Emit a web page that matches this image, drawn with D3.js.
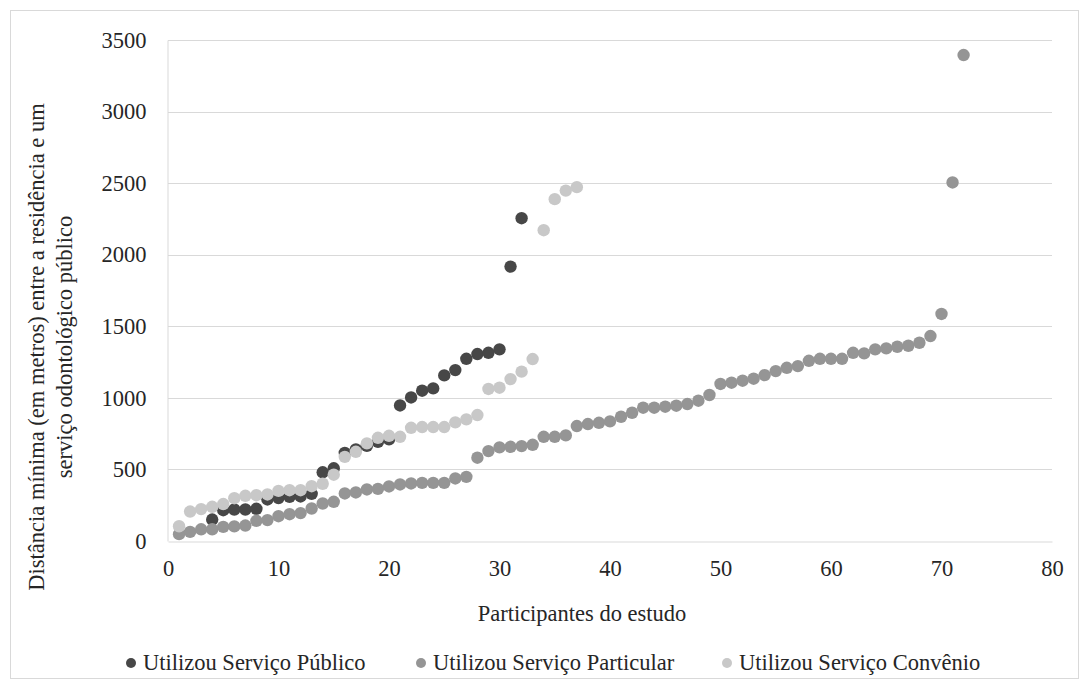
<!DOCTYPE html>
<html>
<head>
<meta charset="utf-8">
<script src="https://cdn.jsdelivr.net/npm/d3@7/dist/d3.min.js"></script>
<style>
  html, body { margin: 0; padding: 0; background: #fff; }
</style>
</head>
<body>
<div id="chart"></div>
<script>
// --- Data ---
const seriesNames = ['Utilizou Serviço Público', 'Utilizou Serviço Particular', 'Utilizou Serviço Convênio'];

// Público: first visible participant is #4
const publicoX = d3.range(4, 33);
const publicoValues = [150, 215, 220, 220, 225, 290, 300, 308, 311, 330, 480, 508, 615, 640, 665, 693, 710,
  947, 1003, 1050, 1066, 1157, 1194, 1273, 1306, 1315, 1339, 1917, 2255];

const particularValues = [48, 64, 82, 82, 99, 102, 108, 141, 146, 173, 187, 195, 227, 262, 274, 332, 339, 360,
  364, 381, 395, 402, 406, 406, 406, 437, 448, 582, 628, 654, 658, 663, 672, 728, 728, 738, 803, 817, 826,
  836, 868, 896, 931, 931, 938, 945, 957, 980, 1020, 1097, 1106, 1120, 1134, 1159, 1187, 1210, 1222, 1259,
  1273, 1273, 1273, 1315, 1311, 1339, 1346, 1357, 1364, 1385, 1432, 1586, 2505, 3395];

const convenioValues = [103, 206, 223, 239, 258, 299, 316, 320, 325, 350, 355, 355, 383, 400, 463, 588, 623,
  682, 721, 735, 728, 791, 796, 796, 796, 829, 850, 880, 1062, 1071, 1131, 1183, 1271, 2171, 2388, 2448, 2472];

const xTicks = [0, 10, 20, 30, 40, 50, 60, 70, 80];
const yTicks = [0, 500, 1000, 1500, 2000, 2500, 3000, 3500];

const colors = ['#474747', '#959595', '#c8c8c8'];

const FONT = '"Liberation Serif", "DejaVu Serif", serif';
const FONT_SIZE = 22.5;
const TEXT_COLOR = '#262626';

// --- Layout ---
const W = 1081, H = 681;
const margin = { top: 40, right: 29, bottom: 140, left: 168 };
const width = W - margin.left - margin.right;
const height = H - margin.top - margin.bottom;

const svg = d3.select('#chart').append('svg')
  .attr('width', W)
  .attr('height', H)
  .attr('font-family', FONT);

// outer chart border
svg.append('rect')
  .attr('x', 10.5).attr('y', 10.5)
  .attr('width', W - 13).attr('height', H - 13)
  .attr('fill', 'none')
  .attr('stroke', '#d9d9d9');

const g = svg.append('g').attr('transform', `translate(${margin.left},${margin.top})`);

const x = d3.scaleLinear().domain([0, 80]).range([0, width]);
const y = d3.scaleLinear().domain([0, 3500]).range([height, 0]);

// gridlines
g.append('g')
  .selectAll('line')
  .data(yTicks.filter(d => d > 0))
  .join('line')
    .attr('x1', 0).attr('x2', width)
    .attr('y1', d => Math.round(y(d)) + 0.5).attr('y2', d => Math.round(y(d)) + 0.5)
    .attr('stroke', '#d9d9d9');

// axes
const xAxis = g.append('g')
  .attr('transform', `translate(0,${Math.round(height) + 0.5})`)
  .call(d3.axisBottom(x).tickValues(xTicks).tickFormat(d3.format('d')).tickSize(0).tickPadding(19));
xAxis.attr('font-family', FONT).attr('font-size', FONT_SIZE);
xAxis.select('.domain').attr('stroke', '#d9d9d9');
xAxis.selectAll('text').attr('fill', TEXT_COLOR);

const yAxis = g.append('g')
  .attr('transform', 'translate(-0.5,0)')
  .call(d3.axisLeft(y).tickValues(yTicks).tickFormat(d3.format('d')).tickSize(0).tickPadding(21));
yAxis.attr('font-family', FONT).attr('font-size', FONT_SIZE);
yAxis.select('.domain').attr('stroke', '#d9d9d9');
yAxis.selectAll('text').attr('fill', TEXT_COLOR);

// points: Público, Particular, Convênio (later series drawn on top)
const series = [
  publicoValues.map((v, i) => ({ x: publicoX[i], y: v })),
  particularValues.map((v, i) => ({ x: i + 1, y: v })),
  convenioValues.map((v, i) => ({ x: i + 1, y: v }))
];

series.forEach((data, si) => {
  g.append('g')
    .selectAll('circle')
    .data(data)
    .join('circle')
      .attr('cx', d => x(d.x))
      .attr('cy', d => y(d.y))
      .attr('r', 6.2)
      .attr('fill', colors[si]);
});

// axis titles
svg.append('text')
  .attr('x', 582).attr('y', 621)
  .attr('text-anchor', 'middle')
  .attr('font-size', FONT_SIZE)
  .attr('fill', TEXT_COLOR)
  .text('Participantes do estudo');

const yTitle = svg.append('text')
  .attr('transform', 'translate(44,347) rotate(-90)')
  .attr('text-anchor', 'middle')
  .attr('font-size', FONT_SIZE)
  .attr('fill', TEXT_COLOR);
yTitle.append('tspan').attr('x', 0).attr('dy', 0).text('Distância mínima (em metros) entre a residência e um');
yTitle.append('tspan').attr('x', 0).attr('dy', 28).text('serviço odontológico público');

// legend
const legendX = [143, 433, 739];
const legend = svg.append('g');
seriesNames.forEach((name, i) => {
  legend.append('circle')
    .attr('cx', legendX[i] - 12).attr('cy', 663)
    .attr('r', 5)
    .attr('fill', colors[i]);
  legend.append('text')
    .attr('x', legendX[i]).attr('y', 670)
    .attr('font-size', FONT_SIZE)
    .attr('fill', TEXT_COLOR)
    .text(name);
});
</script>
</body>
</html>
